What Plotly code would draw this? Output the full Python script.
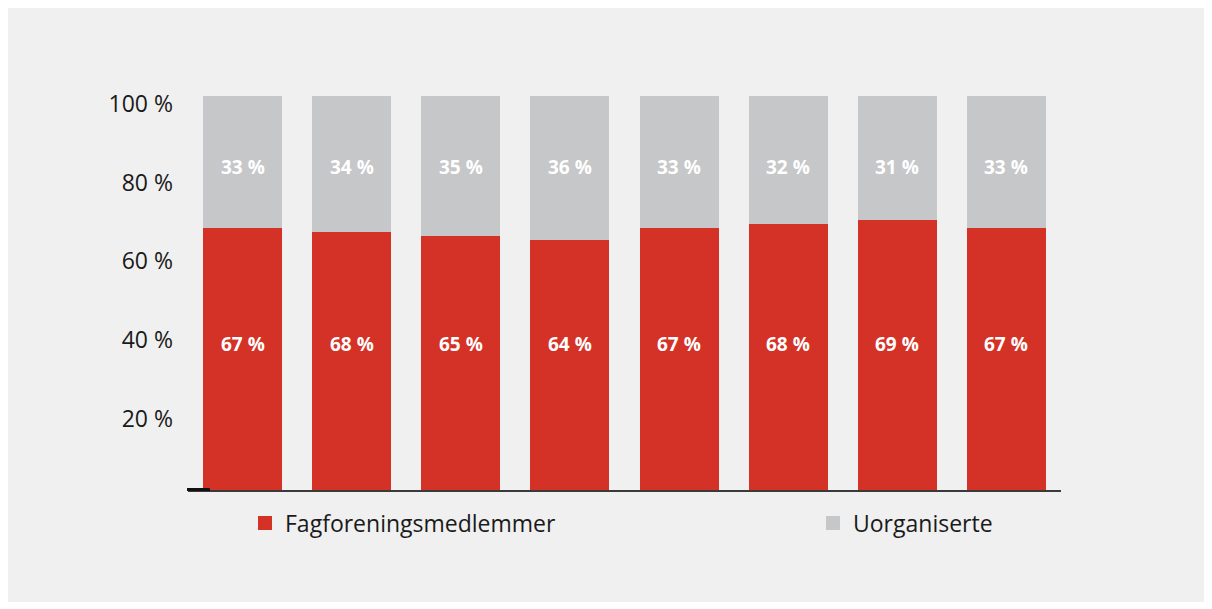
import plotly.graph_objects as go

categories = ["A", "B", "C", "D", "E", "F", "G", "H"]
members = [67, 66, 65, 64, 67, 68, 69, 67]
unorganised = [33, 34, 35, 36, 33, 32, 31, 33]
members_labels = ["67 %", "68 %", "65 %", "64 %", "67 %", "68 %", "69 %", "67 %"]
unorganised_labels = ["33 %", "34 %", "35 %", "36 %", "33 %", "32 %", "31 %", "33 %"]
tick_values = [20, 40, 60, 80, 100]
tick_labels = ["20 %", "40 %", "60 %", "80 %", "100 %"]

RED = "#d43226"
GREY = "#c6c7c9"
FONT = "Open Sans"

# The page body has an 8px margin, so figure coords = page coords - 8.
OFF = 8
PL, PR, PT, PB = 188 - OFF, 1061 - OFF, 58 - OFF, 490 - OFF
W, H = 1212 - OFF, 609 - OFF


def px_x(p):
    return (p - OFF - PL) / float(PR - PL)


def px_y(p):
    return (PB - (p - OFF)) / float(PB - PT)


fig = go.Figure()
fig.add_trace(go.Bar(x=categories, y=members, name="Fagforeningsmedlemmer",
                     marker=dict(color=RED, line=dict(color=RED, width=2)),
                     width=0.705, hoverinfo="skip", legend="legend"))
fig.add_trace(go.Bar(x=categories, y=unorganised, name="Uorganiserte",
                     marker=dict(color=GREY, line=dict(color=GREY, width=2)),
                     width=0.705, hoverinfo="skip", legend="legend2"))

annotations = []
for c, t in zip(categories, members_labels):
    annotations.append(dict(x=c, y=37.2, text=t, showarrow=False, xref="x", yref="y",
                            font=dict(family=FONT, size=19, color="white", weight="bold")))
for c, t in zip(categories, unorganised_labels):
    annotations.append(dict(x=c, y=82.3, text=t, showarrow=False, xref="x", yref="y",
                            font=dict(family=FONT, size=19, color="white", weight="bold")))

shapes = [
    dict(type="rect", xref="paper", yref="paper", x0=px_x(7), x1=px_x(1205),
         y0=px_y(602), y1=px_y(7), fillcolor="#f0f0f0", line=dict(width=0), layer="below"),
    dict(type="line", xref="paper", yref="paper", x0=px_x(187), x1=px_x(210),
         y0=px_y(489.5), y1=px_y(489.5), line=dict(color="#111111", width=3), layer="above"),
]

legend_font = dict(family=FONT, size=23, color="#1a1a1a")

fig.update_layout(
    barmode="stack",
    width=W, height=H,
    margin=dict(l=PL, r=W - PR, t=PT, b=H - PB),
    paper_bgcolor="white",
    plot_bgcolor="rgba(0,0,0,0)",
    font=dict(family=FONT, size=23, color="#1a1a1a"),
    showlegend=True,
    legend=dict(orientation="h", x=px_x(245), xanchor="left", y=px_y(523), yanchor="middle",
                bgcolor="rgba(0,0,0,0)", font=legend_font),
    legend2=dict(orientation="h", x=px_x(813), xanchor="left", y=px_y(523), yanchor="middle",
                 bgcolor="rgba(0,0,0,0)", font=legend_font),
    xaxis=dict(type="category", range=[-0.5, 7.5], showticklabels=False, ticks="",
               showgrid=False, showline=True, linecolor="#3a3a3a", linewidth=2,
               zeroline=False, fixedrange=True),
    yaxis=dict(range=[0, 110], tickvals=tick_values, ticktext=tick_labels, ticks="",
               showgrid=False, zeroline=False, showline=False, ticklabelshift=7,
               ticklabelstandoff=14, tickfont=dict(family=FONT, size=23, color="#1a1a1a"),
               fixedrange=True),
    annotations=annotations,
    shapes=shapes,
)

fig.write_html("out.html")
